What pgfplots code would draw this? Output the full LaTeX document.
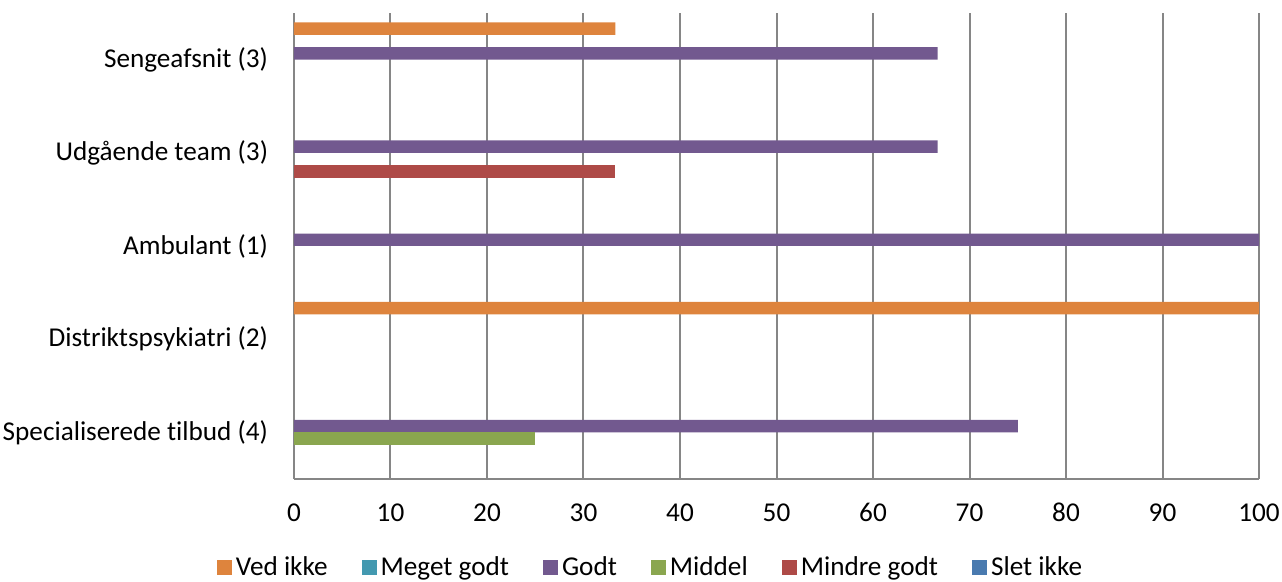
\documentclass[border=0pt]{standalone}
\usepackage{fontspec}
\setmainfont{Carlito}[Ligatures={NoCommon}]
\usepackage{pgfplots}
\pgfplotsset{compat=1.18}

\definecolor{cOrange}{RGB}{222,132,61}
\definecolor{cTeal}{RGB}{67,153,176}
\definecolor{cPurple}{RGB}{114,89,143}
\definecolor{cGreen}{RGB}{138,166,79}
\definecolor{cRed}{RGB}{174,74,71}
\definecolor{cBlue}{RGB}{73,122,175}
\definecolor{axisgray}{RGB}{134,134,134}

\begin{document}
\begin{tikzpicture}
\path[use as bounding box] (0,0) rectangle (641pt,291pt);
\begin{axis}[
  at={(147pt,51.5pt)}, anchor=south west,
  scale only axis, width=482.5pt, height=233pt,
  xmin=0, xmax=100, ymin=-0.5, ymax=4.5,
  xtick={0,10,...,100},
  ytick={0,1,2,3,4},
  yticklabels={Specialiserede tilbud (4), Distriktspsykiatri (2), Ambulant (1), Udgående team (3), Sengeafsnit (3)},
  axis x line*=bottom, axis y line*=left,
  axis line style={draw=axisgray, line width=1pt, -},
  xmajorgrids, grid style={draw=axisgray, line width=1pt},
  major tick length=0pt,
  tick label style={font=\fontsize{13.6}{16}\selectfont},
  xticklabel style={anchor=base, inner sep=0pt, yshift=-21.25pt},
  yticklabel style={anchor=east, inner sep=0pt, xshift=-12.8pt},
  /pgf/number format/assume math mode=true,
  xbar, bar width=6.2pt,
  legend image code/.code={\fill[#1] (0pt,-3.75pt) rectangle (7.5pt,3.75pt);},
  legend columns=-1,
  legend style={at={(0.3705,-0.19)}, anchor=center, draw=none,
    font=\fontsize{13.6}{16}\selectfont,
    /tikz/every even column/.append style={column sep=15pt}},
]
% Ved ikke
\addplot[fill=cOrange, draw=none, bar shift=15.5pt] coordinates {(33.3,4) (100,1)};
\addlegendentry{Ved ikke}
% Meget godt (no answers)
\addlegendimage{fill=cTeal, draw=none}
\addlegendentry{Meget godt}
% Godt
\addplot[fill=cPurple, draw=none, bar shift=3.1pt] coordinates {(66.7,4) (66.7,3) (100,2) (75,0)};
\addlegendentry{Godt}
% Middel
\addplot[fill=cGreen, draw=none, bar shift=-3.1pt] coordinates {(25,0)};
\addlegendentry{Middel}
% Mindre godt
\addplot[fill=cRed, draw=none, bar shift=-9.3pt] coordinates {(33.3,3)};
\addlegendentry{Mindre godt}
% Slet ikke (no answers)
\addlegendimage{fill=cBlue, draw=none}
\addlegendentry{Slet ikke}
\end{axis}
\end{tikzpicture}
\end{document}
